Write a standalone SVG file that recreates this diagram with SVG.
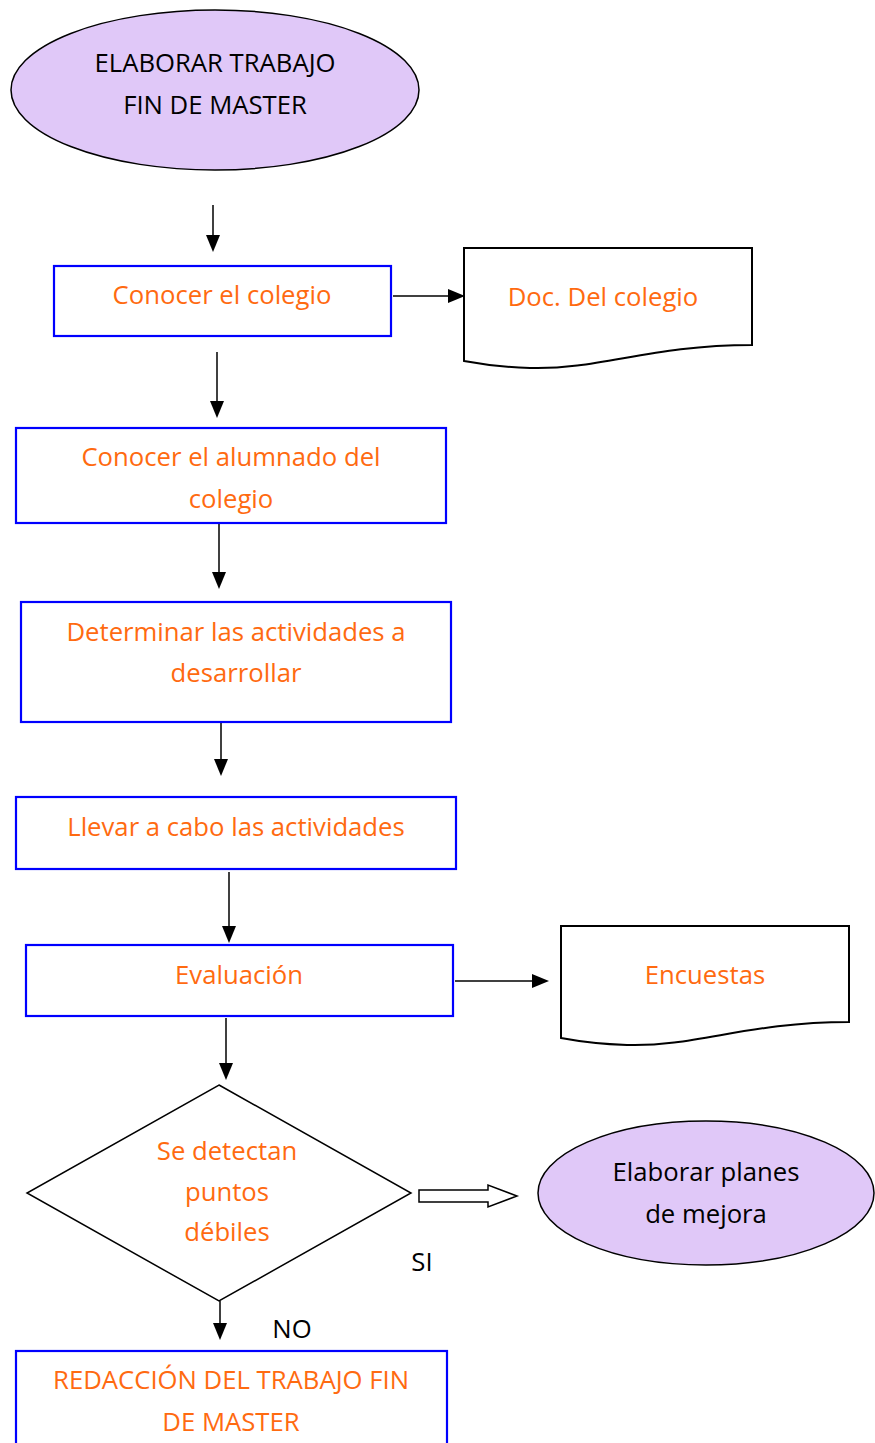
<svg xmlns="http://www.w3.org/2000/svg" width="875" height="1443" viewBox="0 0 875 1443">
<style>
.box{fill:#fff;stroke:#0000ff;stroke-width:2.2}
.doc{fill:#fff;stroke:#000;stroke-width:2}
.ell{fill:#e0c8f8;stroke:#000;stroke-width:1.5}
.t{font-family:"Open Sans",Lato,"Liberation Sans",sans-serif;font-size:25.7px;fill:#ff6a10;text-anchor:middle}
.k{font-family:"Open Sans",Lato,"Liberation Sans",sans-serif;font-size:25.7px;fill:#000;text-anchor:middle}
.c{stroke:#000;stroke-width:1.5;fill:none}
</style>
<rect width="875" height="1443" fill="#fff"/>
<g id="connectors">
<path d="M213,205 V235" class="c"/><path d="M206,235 L220,235 L213,252 Z"/>
<path d="M393,296 H448" class="c"/><path d="M448,289 L465,296 L448,303 Z"/>
<path d="M217,352 V401" class="c"/><path d="M210,401 L224,401 L217,418 Z"/>
<path d="M219,524 V572" class="c"/><path d="M212,572 L226,572 L219,589 Z"/>
<path d="M221,723 V759" class="c"/><path d="M214,759 L228,759 L221,776 Z"/>
<path d="M229,872 V926" class="c"/><path d="M222,926 L236,926 L229,943 Z"/>
<path d="M455,981 H532" class="c"/><path d="M532,974 L549,981 L532,988 Z"/>
<path d="M226,1018 V1063" class="c"/><path d="M219,1063 L233,1063 L226,1080 Z"/>
<path d="M220,1301 V1323" class="c"/><path d="M213,1323 L227,1323 L220,1340 Z"/>
<path d="M419,1190 H488 V1185 L517,1196 L488,1207 V1202 H419 Z" fill="#fff" stroke="#000" stroke-width="1.5"/>
<text class="k" x="422" y="1271">SI</text>
<text class="k" x="292" y="1338">NO</text>
</g>
<g id="start">
<ellipse class="ell" cx="215" cy="90" rx="204" ry="80"/>
<text class="k" x="215" y="72">ELABORAR TRABAJO</text>
<text class="k" x="215" y="114">FIN DE MASTER</text>
</g>
<g id="conocer-colegio">
<rect class="box" x="54" y="266" width="337" height="70"/>
<text class="t" x="222" y="304">Conocer el colegio</text>
</g>
<g id="doc-colegio">
<path class="doc" d="M464,248 H752 V345 C650,345 600,370 530,368 C500,367 480,364 464,361 Z"/>
<text class="t" x="603" y="306">Doc. Del colegio</text>
</g>
<g id="conocer-alumnado">
<rect class="box" x="16" y="428" width="430" height="95"/>
<text class="t" x="231" y="466">Conocer el alumnado del</text>
<text class="t" x="231" y="508">colegio</text>
</g>
<g id="determinar">
<rect class="box" x="21" y="602" width="430" height="120"/>
<text class="t" x="236" y="641">Determinar las actividades a</text>
<text class="t" x="236" y="682">desarrollar</text>
</g>
<g id="llevar">
<rect class="box" x="16" y="797" width="440" height="72"/>
<text class="t" x="236" y="836">Llevar a cabo las actividades</text>
</g>
<g id="evaluacion">
<rect class="box" x="26" y="945" width="427" height="71"/>
<text class="t" x="239" y="984">Evaluación</text>
</g>
<g id="encuestas">
<path class="doc" d="M561,926 H849 V1022 C747,1022 697,1047 627,1045 C597,1044 577,1041 561,1038 Z"/>
<text class="t" x="705" y="984">Encuestas</text>
</g>
<g id="decision">
<path d="M219,1085 L411,1193 L219,1301 L27,1193 Z" fill="#fff" stroke="#000" stroke-width="1.5"/>
<text class="t" x="227" y="1160">Se detectan</text>
<text class="t" x="227" y="1201">puntos</text>
<text class="t" x="227" y="1241">débiles</text>
</g>
<g id="planes">
<ellipse class="ell" cx="706" cy="1193" rx="168" ry="72"/>
<text class="k" x="706" y="1181">Elaborar planes</text>
<text class="k" x="706" y="1223">de mejora</text>
</g>
<g id="redaccion">
<rect class="box" x="16" y="1351" width="431" height="110"/>
<text class="t" x="231" y="1389">REDACCIÓN DEL TRABAJO FIN</text>
<text class="t" x="231" y="1431">DE MASTER</text>
</g>
</svg>
